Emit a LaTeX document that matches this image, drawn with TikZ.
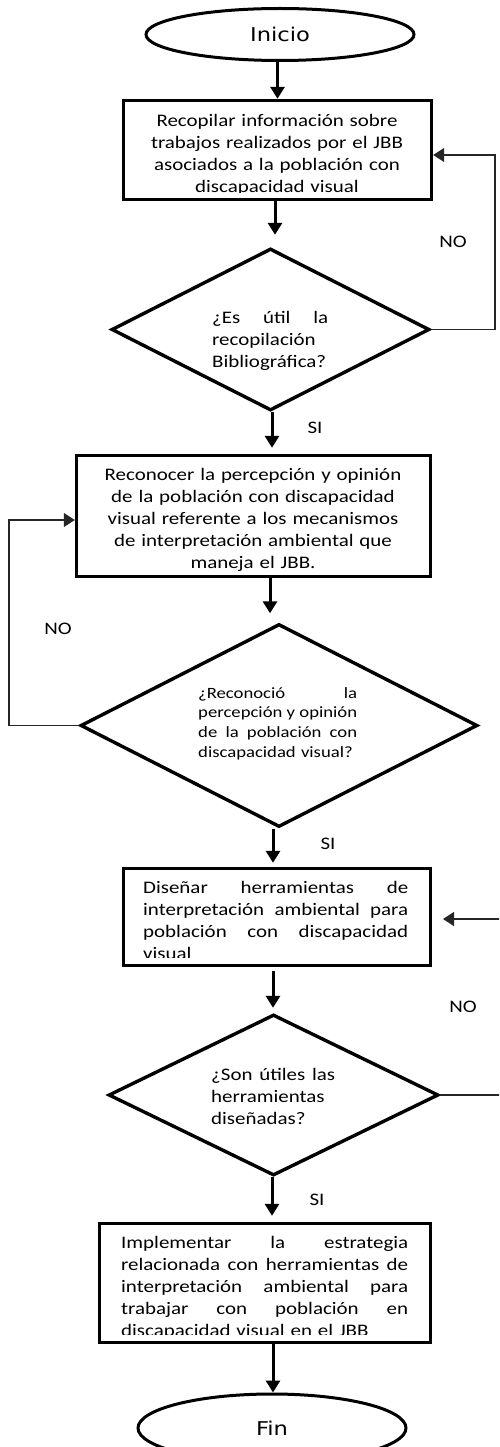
\documentclass[tikz,border=0pt]{standalone}
\usepackage{fontspec}
\setmainfont{Carlito}[FakeStretch=1.19]
\newfontfamily\djv{DejaVu Sans}[FakeStretch=1.19]
\usetikzlibrary{shapes.geometric,arrows.meta}
\newcommand{\jline}[2]{\makebox[#1][l]{#2}}
\tikzset{
  boxnode/.style={draw, line width=3.4pt, rectangle, inner sep=0pt},
  decnode/.style={draw, line width=3.4pt, diamond, inner sep=0pt},
  termnode/.style={draw, line width=3pt, ellipse, inner sep=0pt, font=\djv\fontsize{19}{22}\selectfont},
  txt/.style={inner sep=0pt, anchor=base west, align=left, font=\fontsize{17.6}{22}\selectfont},
  ctxt/.style={inner sep=0pt, anchor=base, align=center, font=\fontsize{17.6}{22}\selectfont},
  arr/.style={line width=3pt, -{Triangle[length=12pt,width=14pt]}},
  fbarr/.style={line width=1.3pt, draw=black!85, -{Triangle[length=11pt,width=14pt]}},
  lbl/.style={inner sep=0pt, font=\fontsize{17.6}{22}\selectfont},
}
\begin{document}
\begin{tikzpicture}[x=1pt,y=-1pt]
\useasboundingbox (0,0) rectangle (499,1447);
\clip (0,0) rectangle (499,1447);

% terminals, boxes, decisions
\node[termnode, minimum width=268, minimum height=52] (ini) at (280,34.5) {Inicio};
\node[boxnode, minimum width=308, minimum height=99] (b1) at (277.5,150) {};
\node[decnode, minimum width=318, minimum height=162] (d1) at (270.5,329.5) {};
\node[boxnode, minimum width=354, minimum height=121] (b2) at (253.5,516) {};
\node[decnode, minimum width=397, minimum height=203] (d2) at (279,725.5) {};
\node[boxnode, minimum width=307, minimum height=97] (b3) at (277,917) {};
\node[decnode, minimum width=330, minimum height=161] (d3) at (273.5,1095) {};
\node[boxnode, minimum width=331, minimum height=119] (b4) at (265,1283) {};
\node[termnode, minimum width=268, minimum height=68] (fin) at (272,1428) {Fin};

% box texts (clipped to the box interior)
\begin{scope}
\clip (124,101) rectangle (431,193);
\node[ctxt, text width=300pt] (t1) at (277,127) {Recopilar información sobre\\trabajos realizados por el JBB\\asociados a la población con\\discapacidad visual};
\end{scope}
\begin{scope}
\clip (77,456) rectangle (430,572);
\node[ctxt, text width=340pt] (t2) at (253,480) {Reconocer la percepción y opinión\\de la población con discapacidad\\visual referente a los mecanismos\\de interpretación ambiental que\\maneja el JBB.};
\end{scope}
\begin{scope}
\clip (124,869) rectangle (430,957);
\node[txt, text width=265pt] (t3) at (143,893) {\jline{265pt}{Diseñar\hfill herramientas\hfill de}\\\jline{265pt}{interpretación\hfill ambiental\hfill para}\\\jline{265pt}{población\hfill con\hfill discapacidad}\\visual};
\end{scope}
\begin{scope}
\clip (100,1224) rectangle (430,1334);
\node[txt, text width=287pt] (t4) at (121,1248) {\jline{287pt}{Implementar\hfill la\hfill estrategia}\\\jline{287pt}{relacionada\hfill con\hfill herramientas\hfill de}\\\jline{287pt}{interpretación\hfill ambiental\hfill para}\\\jline{287pt}{trabajar\hfill con\hfill población\hfill en}\\discapacidad visual en el JBB};
\end{scope}

% decision texts
\node[txt, text width=116pt] (q1) at (212,323) {\jline{116pt}{¿Es\hfill útil\hfill la}\\recopilación\\Bibliográfica?};
\node[txt, text width=159pt, font=\fontsize{15.7}{19.7}\selectfont] (q2) at (198,698) {\jline{159pt}{¿Reconoció\hfill la}\\\jline{159pt}{percepción\hfill y\hfill opinión}\\\jline{159pt}{de\hfill la\hfill población\hfill con}\\discapacidad visual?};
\node[txt, text width=140pt] (q3) at (211,1080) {\jline{124pt}{¿Son\hfill útiles\hfill las}\\herramientas\\diseñadas?};

% helper coordinates for arrow tips that stop short of the next shape
\path ([yshift=12pt]d1.north) coordinate (d1in);
\path ([yshift=6pt]b2.north) coordinate (b2in);
\path ([yshift=9pt]d2.north) coordinate (d2in);
\path ([yshift=4pt]b3.north) coordinate (b3in);
\path ([yshift=5pt]d3.north) coordinate (d3in);
\path ([yshift=6pt]b4.north) coordinate (b4in);

% main flow
\draw[arr] (b1.north |- ini.south) -- (b1.north);
\draw[arr] ([xshift=-2.5pt]b1.south) -- ([xshift=-2.5pt]b1.south |- d1in);
\draw[arr] ([xshift=1.5pt]d1.south) -- ([xshift=1.5pt]d1.south |- b2in);
\draw[arr] ([xshift=16.5pt]b2.south) -- ([xshift=16.5pt]b2.south |- d2in);
\draw[arr] ([xshift=-6pt]d2.south) -- ([xshift=-6pt]d2.south |- b3in);
\draw[arr] ([xshift=-4pt,yshift=-4pt]b3.south) -- ([xshift=-4pt]b3.south |- d3in);
\draw[arr] ([xshift=-1.5pt]d3.south) -- ([xshift=-1.5pt]d3.south |- b4in);
\draw[arr] ([xshift=8pt]b4.south) -- ([xshift=8pt]b4.south |- fin.north);

% feedback loops
\coordinate (f1a) at (495,329.5);
\coordinate (f1b) at (495,155);
\draw[fbarr] (d1.east) -- (f1a) -- (f1b) -- (f1b -| b1.east);
\coordinate (f2a) at (9,725.5);
\coordinate (f2b) at (9,520);
\draw[fbarr] (d2.west) -- (f2a) -- (f2b) -- (f2b -| b2.west);
\coordinate (f3a) at (515,1095);
\coordinate (f3b) at (515,919);
\coordinate (f3c) at (443,919);
\draw[fbarr] (d3.east) -- (f3a) -- (f3b) -- (f3c);

% labels
\node[lbl] (no1) at (453,242) {NO};
\node[lbl] (si1) at (315,428) {SI};
\node[lbl] (no2) at (58,629) {NO};
\node[lbl] (si2) at (328,844) {SI};
\node[lbl] (no3) at (463,1007) {NO};
\node[lbl] (si3) at (317,1200) {SI};
\end{tikzpicture}
\end{document}
